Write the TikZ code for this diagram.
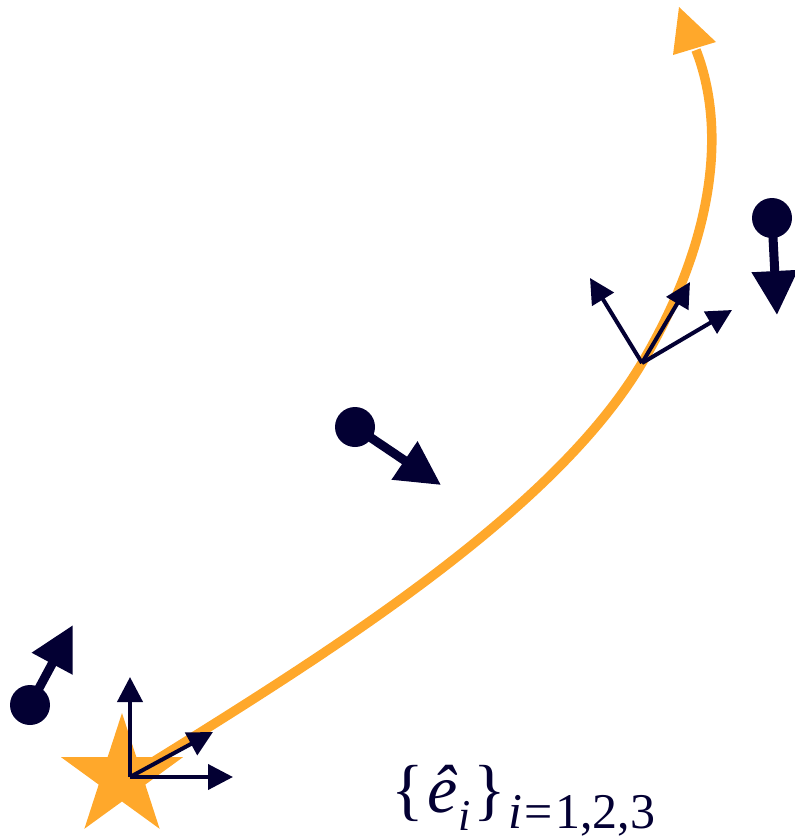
\documentclass[tikz,border=0pt]{standalone}
\usepackage{fontspec}
\IfFontExistsTF{LiberationSerif-Regular.ttf}
  {\setmainfont{LiberationSerif}[Extension=.ttf,UprightFont=*-Regular,ItalicFont=*-Italic,BoldFont=*-Bold,BoldItalicFont=*-BoldItalic]}
  {\setmainfont{Liberation Serif}}
\usetikzlibrary{arrows.meta}
\definecolor{orangec}{RGB}{255,168,43}
\definecolor{navy}{RGB}{3,0,51}
\tikzset{
  framevec/.style={draw=navy, line width=4pt, -{Triangle[length=25pt,width=25pt]}},
  velvec/.style={draw=navy, line width=9pt, -{Triangle[length=44pt,width=44pt]}},
  particle/.style={circle, fill=navy, minimum size=40pt, inner sep=0pt},
  traj/.style={draw=orangec, line width=9.5pt}
}
\begin{document}
\begin{tikzpicture}[x=1pt,y=-1pt]
\useasboundingbox (0,0) rectangle (795,839);
% trajectory
\coordinate (s0) at (132,775);
\coordinate (s1) at (642,363);
\coordinate (s2) at (696,50);
\draw[traj] (s0) .. controls (312,663) and (550,518) .. (s1)
                 .. controls (718,234) and (725,124) .. (s2);
\fill[orangec] (679,7) -- (673,55) -- (716,42) -- cycle;
% star
\fill[orangec, shift={(122,777)}] (-90:64) -- (-54:24.5) -- (-18:64) -- (18:24.5) -- (54:64) -- (90:24.5) -- (126:64) -- (162:24.5) -- (198:64) -- (234:24.5) -- cycle;
% frame at star
\coordinate (o1) at (130,777);
\coordinate (o1a) at (130,677);
\coordinate (o1b) at (213,732);
\coordinate (o1c) at (233,777);
\draw[framevec] (o1) -- (o1a);
\draw[framevec] (o1) -- (o1b);
\draw[framevec] (o1) -- (o1c);
% frame on curve
\coordinate (o2) at (642,363);
\coordinate (o2a) at (590,278);
\coordinate (o2b) at (690,282);
\coordinate (o2c) at (732,310);
\draw[framevec] (o2) -- (o2a);
\draw[framevec] (o2) -- (o2b);
\draw[framevec] (o2) -- (o2c);
% particles
\node[particle] (p1) at (30,705) {};
\coordinate (v1) at (73,625);
\draw[velvec] (p1.center) -- (v1);
\node[particle] (p2) at (355,427) {};
\coordinate (v2) at (441,485);
\draw[velvec] (p2.center) -- (v2);
\node[particle] (p3) at (772,218) {};
\coordinate (v3) at (777,315);
\draw[velvec] (p3.center) -- (v3);
% label
\node[anchor=base west, inner sep=0pt, text=navy] (lab) at (391,812)
  {{\fontsize{68}{68}\selectfont\{\kern0.06em\textit{ê}\raisebox{-18pt}{\fontsize{44}{44}\selectfont\textit{i}}\kern0.04em\}}\raisebox{-16pt}{\fontsize{50}{50}\selectfont\kern0.05em\textit{i}\kern0.05em=\kern0.05em1,2,3}};
\end{tikzpicture}
\end{document}
